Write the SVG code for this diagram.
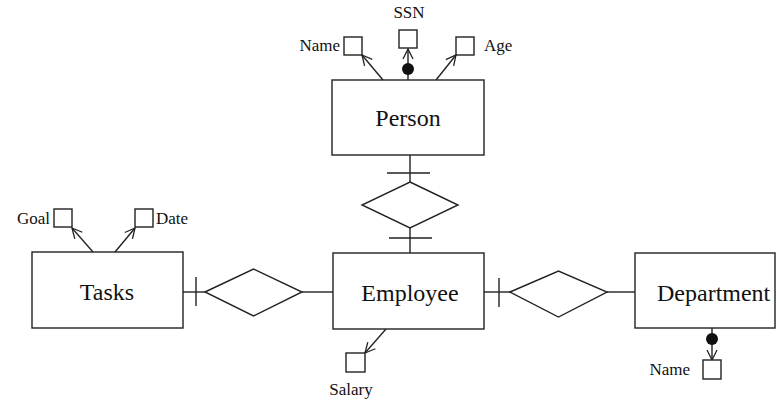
<svg xmlns="http://www.w3.org/2000/svg" width="776" height="401" viewBox="0 0 776 401">
<defs>
<marker id="arr" viewBox="0 0 12 12" refX="11" refY="6" markerWidth="12" markerHeight="12" markerUnits="userSpaceOnUse" orient="auto">
<path d="M1,1 L11,6 L1,11" fill="none" stroke="#222" stroke-width="1.3"/>
</marker>
<style>
.box{fill:#fff;stroke:#222;stroke-width:1.4}
.ln{fill:none;stroke:#222;stroke-width:1.4}
.big{font-family:"Liberation Serif",serif;font-size:24px;fill:#111}
.sm{font-family:"Liberation Serif",serif;font-size:17px;fill:#111}
.dot{fill:#111}
</style>
</defs>
<g id="connectors">
<line class="ln" x1="183" y1="292" x2="205" y2="292"/>
<line class="ln" x1="196" y1="277" x2="196" y2="306"/>
<line class="ln" x1="302" y1="292" x2="333" y2="292"/>
<line class="ln" x1="410" y1="155" x2="410" y2="182"/>
<line class="ln" x1="387" y1="173" x2="430" y2="173"/>
<line class="ln" x1="410" y1="228" x2="410" y2="253"/>
<line class="ln" x1="389" y1="238" x2="432" y2="238"/>
<line class="ln" x1="484" y1="292" x2="510" y2="292"/>
<line class="ln" x1="499" y1="278" x2="499" y2="307"/>
<line class="ln" x1="607" y1="292" x2="635" y2="292"/>
<line class="ln" x1="383" y1="80" x2="362" y2="55" marker-end="url(#arr)"/>
<line class="ln" x1="408" y1="80" x2="408" y2="49" marker-end="url(#arr)"/>
<circle class="dot" cx="408" cy="69" r="6"/>
<line class="ln" x1="436" y1="80" x2="456" y2="55" marker-end="url(#arr)"/>
<line class="ln" x1="93" y1="252" x2="72" y2="228" marker-end="url(#arr)"/>
<line class="ln" x1="115" y1="252" x2="135" y2="228" marker-end="url(#arr)"/>
<line class="ln" x1="386" y1="329" x2="365" y2="353" marker-end="url(#arr)"/>
<line class="ln" x1="712" y1="328" x2="712" y2="360" marker-end="url(#arr)"/>
<circle class="dot" cx="712" cy="339" r="6"/>
</g>
<g id="person">
<rect class="box" x="332" y="80" width="152" height="75"/>
<text class="big" x="408" y="126" text-anchor="middle">Person</text>
</g>
<g id="person-name">
<rect class="box" x="344" y="37" width="18" height="18"/>
<text class="sm" x="340" y="51" text-anchor="end">Name</text>
</g>
<g id="person-ssn">
<rect class="box" x="399" y="30" width="18" height="18"/>
<text class="sm" x="409" y="18" text-anchor="middle" font-size="14">SSN</text>
</g>
<g id="person-age">
<rect class="box" x="456" y="37" width="18" height="18"/>
<text class="sm" x="484" y="51">Age</text>
</g>
<g id="works-for">
<polygon class="box" points="410,182 458,205 410,228 362,205"/>
</g>
<g id="tasks">
<rect class="box" x="32" y="252" width="151" height="76"/>
<text class="big" x="107" y="300" text-anchor="middle">Tasks</text>
</g>
<g id="tasks-goal">
<rect class="box" x="54" y="209" width="18" height="18"/>
<text class="sm" x="50" y="224" text-anchor="end">Goal</text>
</g>
<g id="tasks-date">
<rect class="box" x="135" y="209" width="18" height="18"/>
<text class="sm" x="156" y="224">Date</text>
</g>
<g id="assigned">
<polygon class="box" points="205,292 253.5,269 302,292 253.5,316"/>
</g>
<g id="employee">
<rect class="box" x="333" y="253" width="151" height="76"/>
<text class="big" x="410" y="301" text-anchor="middle">Employee</text>
</g>
<g id="employee-salary">
<rect class="box" x="346" y="353" width="19" height="19"/>
<text class="sm" x="351" y="395" text-anchor="middle">Salary</text>
</g>
<g id="belongs">
<polygon class="box" points="510,292 558.5,271 607,292 558.5,317"/>
</g>
<g id="department">
<rect class="box" x="635" y="253" width="140" height="75"/>
<text class="big" x="657" y="301">Department</text>
</g>
<g id="department-name">
<rect class="box" x="703" y="360" width="18" height="19"/>
<text class="sm" x="690" y="375" text-anchor="end">Name</text>
</g>
</svg>
